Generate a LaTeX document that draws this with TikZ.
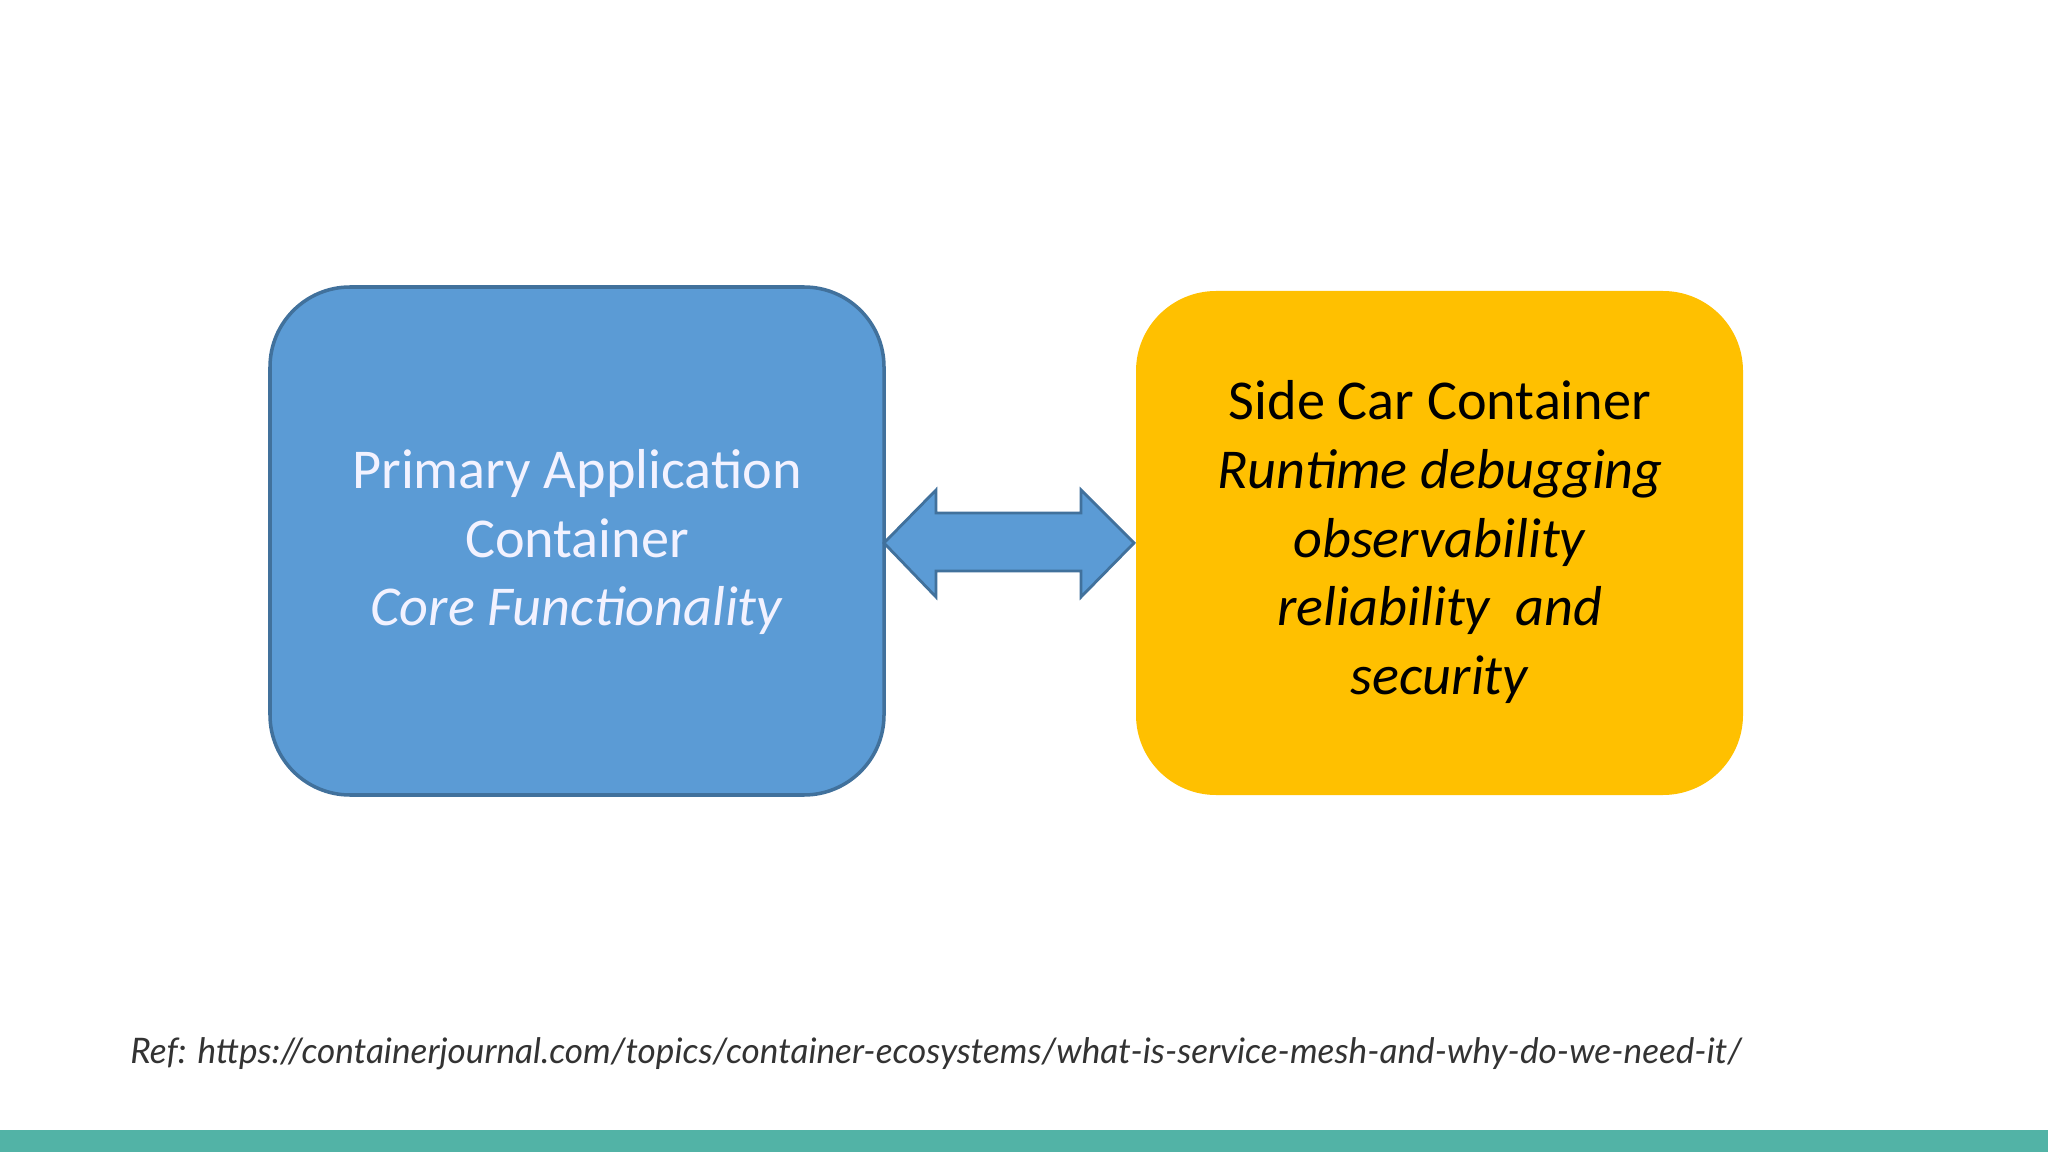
\documentclass[tikz,border=0pt]{standalone}
\usepackage{fontspec}
\setmainfont{Carlito}
\newfontfamily\reffont{Lato}
\definecolor{bluefill}{HTML}{5B9BD5}
\definecolor{blueedge}{HTML}{41719C}
\definecolor{yel}{HTML}{FFC000}
\definecolor{teal}{HTML}{52B3A6}
\begin{document}
\begin{tikzpicture}[x=0.01cm,y=-0.01cm,
  boxtext/.style={align=center,font=\fontsize{16}{19.5}\selectfont}]
\useasboundingbox (0,0) rectangle (2048,1152);
\fill[white] (0,0) rectangle (2048,1152);
\fill[teal] (0,1130) rectangle (2048,1152);
\draw[blueedge,fill=bluefill,line width=1pt,rounded corners=0.8cm] (270,287) rectangle (884,795);
\fill[yel,rounded corners=0.8cm] (1136,291) rectangle (1743,795);
\node[boxtext,text=white!95!blue] (p) at (577,542) {Primary Application\\Container\\\textit{Core Functionality}};
\node[boxtext,text=black] (s) at (1440,542) {Side Car Container\\\textit{Runtime debugging}\\\textit{observability}\\\textit{reliability\ \ and}\\\textit{security}};
\draw[blueedge,fill=bluefill,line width=0.8pt] (884,543) -- (936,490) -- (936,513) -- (1081,513) -- (1081,490) -- (1134,543) -- (1081,597) -- (1081,571) -- (936,571) -- (936,597) -- cycle;
\node[anchor=base west,font=\reffont\itshape\fontsize{10}{12}\selectfont,text=black!80] (r) at (118,1063) {Ref: https://containerjournal.com/topics/container-ecosystems/what-is-service-mesh-and-why-do-we-need-it/};
\end{tikzpicture}
\end{document}
